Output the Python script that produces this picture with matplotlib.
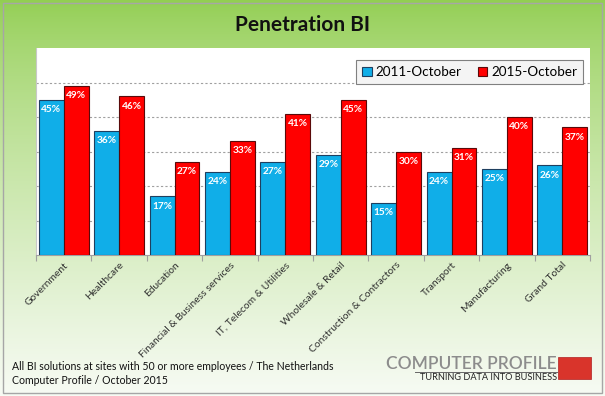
import numpy as np
import matplotlib.pyplot as plt
from matplotlib.patches import Rectangle
from matplotlib.lines import Line2D

plt.rcParams["font.family"] = ["Lato", "DejaVu Sans"]

categories = ["Government", "Healthcare", "Education", "Financial & Business services",
              "IT, Telecom & Utilities", "Wholesale & Retail", "Construction & Contractors",
              "Transport", "Manufacturing", "Grand Total"]
pct_2011 = [45, 36, 17, 24, 27, 29, 15, 24, 25, 26]
pct_2015 = [49, 46, 27, 33, 41, 45, 30, 31, 40, 37]
series_names = ["2011-October", "2015-October"]

W, H = 605, 396
fig = plt.figure(figsize=(W / 100, H / 100), dpi=100)

# green gradient background
bg = fig.add_axes([0, 0, 1, 1], zorder=0)
t = np.linspace(0, 1, 256) ** 0.75
top = np.array([146, 206, 82]) / 255
bot = np.array([247, 251, 244]) / 255
grad = top[None, :] * (1 - t[:, None]) + bot[None, :] * t[:, None]
bg.imshow(grad[:, None, :], aspect="auto", extent=[0, 1, 0, 1])
bg.add_patch(Rectangle((3 / W, 3 / H), 1 - 6 / W, 1 - 6 / H, fill=False,
                       edgecolor="#A6A6A6", lw=1.0, transform=bg.transAxes))
bg.set_xlim(0, 1)
bg.set_ylim(0, 1)
bg.axis("off")

# plot area
left, right, ytop, ybot = 36, 590, 48, 255
ax = fig.add_axes([left / W, 1 - ybot / H, (right - left) / W, (ybot - ytop) / H], zorder=2)
ax.set_facecolor("white")

x = np.arange(len(categories))
w = 0.45
b1 = ax.bar(x - w / 2, pct_2011, w, color="#10AEE8", edgecolor="#1F3F5F", lw=0.8,
            label=series_names[0], zorder=3)
b2 = ax.bar(x + w / 2, pct_2015, w, color="#FF0000", edgecolor="#5A0A0A", lw=0.8,
            label=series_names[1], zorder=3)

for bars, vals in [(b1, pct_2011), (b2, pct_2015)]:
    for r, v in zip(bars, vals):
        ax.annotate(f"{v}%", (r.get_x() + r.get_width() / 2, v), xytext=(0, -7),
                    textcoords="offset points", ha="center", va="center",
                    color="white", fontsize=7.3, fontweight="bold", zorder=4)

ax.set_xlim(-0.5, len(categories) - 0.5)
ax.set_ylim(0, 60)
ax.set_yticks([10, 20, 30, 40, 50])
ax.yaxis.grid(True, color="#A0A0A0", linestyle=(0, (2, 2)), lw=0.8)
ax.set_axisbelow(True)
ax.tick_params(axis="y", length=0, labelleft=False)

ax.set_xticks(x)
ax.set_xticklabels(categories, rotation=45, ha="right", rotation_mode="anchor",
                   fontsize=7.4, color="#303030")
ax.tick_params(axis="x", which="major", length=0, pad=4)
ax.set_xticks(np.arange(-0.5, len(categories)), minor=True)
ax.tick_params(axis="x", which="minor", length=4, color="#A0A0A0", width=0.8)

for s in ["top", "right"]:
    ax.spines[s].set_visible(False)
ax.spines["bottom"].set_color("#A0A0A0")
ax.spines["left"].set_color("#C8C8C8")

leg = ax.legend(loc="upper right", bbox_to_anchor=(1.0, 0.975), ncol=2, fontsize=9.7,
                frameon=True, fancybox=False, edgecolor="#808080", facecolor="#F4F4F4",
                framealpha=1, handlelength=0.7, handleheight=0.7, handletextpad=0.3,
                columnspacing=1.2, borderpad=0.45)
leg.get_frame().set_linewidth(0.8)

# title
fig.text(0.5, 1 - 25 / H, "Penetration BI", ha="center", va="center",
         fontsize=15, fontweight="bold", color="#111111", zorder=3)

# footer
fig.text(12 / W, 1 - 367 / H, "All BI solutions at sites with 50 or more employees / The Netherlands",
         ha="left", va="center", fontsize=7.6, color="#111111", zorder=3)
fig.text(12 / W, 1 - 380 / H, "Computer Profile / October 2015",
         ha="left", va="center", fontsize=7.6, color="#111111", zorder=3)

# logo
fig.text(557 / W, 1 - 364 / H, "COMPUTER PROFILE", ha="right", va="center",
         fontsize=12.5, fontweight="semibold", color="#8C8C8C", zorder=3)
fig.text(557 / W, 1 - 377 / H, "TURNING DATA INTO BUSINESS", ha="right", va="center",
         fontsize=6.6, color="#222222", zorder=3)
fig.add_artist(Line2D([415 / W, 557 / W], [1 - 371.5 / H, 1 - 371.5 / H],
                      color="#666666", lw=0.7, zorder=3))
fig.add_artist(Rectangle((558 / W, 1 - 379 / H), 33 / W, 22 / H, facecolor="#D9342B",
                         edgecolor="#B02020", lw=0.5, zorder=3))

fig.savefig("out.png", dpi=100)
